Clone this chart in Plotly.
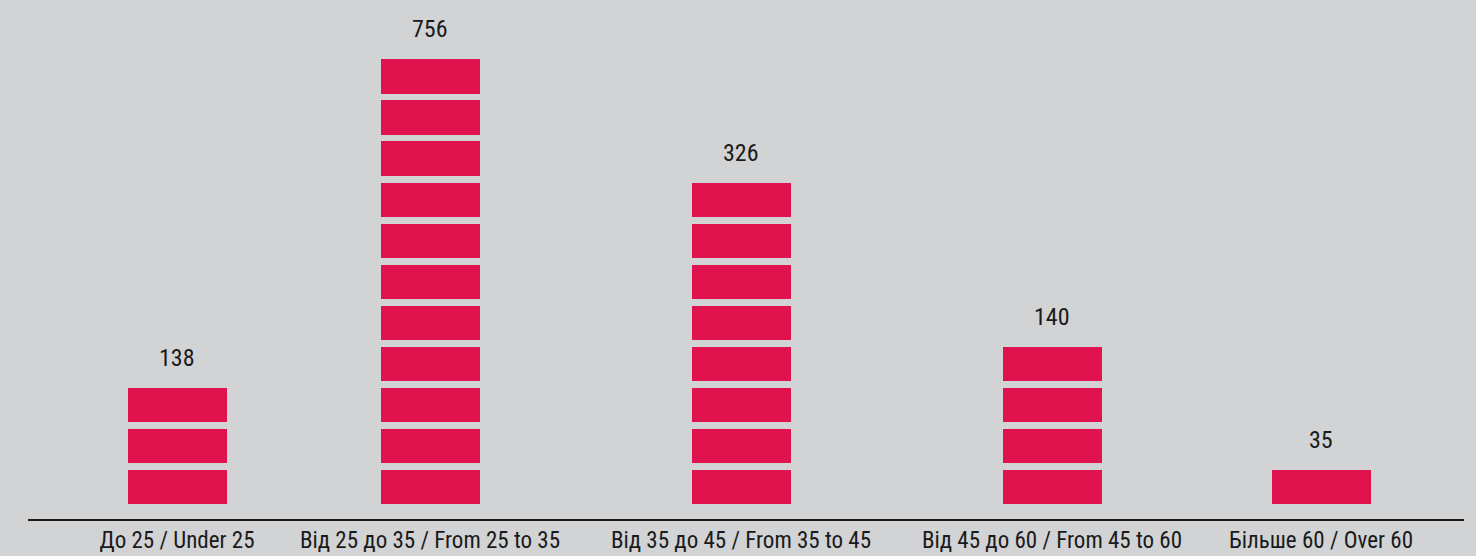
import plotly.graph_objects as go

# ---- data ----
categories = ["До 25 / Under 25", "Від 25 до 35 / From 25 to 35", "Від 35 до 45 / From 35 to 45",
              "Від 45 до 60 / From 45 to 60", "Більше 60 / Over 60"]
values = [138, 756, 326, 140, 35]
blocks = [3, 11, 8, 4, 1]          # number of pictogram blocks per category

# ---- layout constants (positions/styles) ----
x_pos = [149, 402, 713, 1024, 1293]  # category centers on the x axis
BAR_W = 99
BLOCK_H = 0.83
BG = "#D2D3D5"
RED = "#E0134F"
FONT = "Liberation Sans Narrow, Arial Narrow, Roboto Condensed, Liberation Sans, Arial, sans-serif"

fig = go.Figure()
for k in range(max(blocks)):
    xs = [x for x, n in zip(x_pos, blocks) if n > k]
    fig.add_trace(go.Bar(
        x=xs, y=[BLOCK_H] * len(xs), base=[k] * len(xs),
        width=BAR_W, marker=dict(color=RED, line=dict(width=0)),
        hoverinfo="skip", showlegend=False,
    ))

for x, n, v in zip(x_pos, blocks, values):
    fig.add_annotation(x=x, y=n - 1 + BLOCK_H, text=str(v), showarrow=False,
                       yanchor="bottom", yshift=14,
                       font=dict(family=FONT, size=24, color="#1a1a1a"))

fig.update_layout(
    width=1476, height=556,
    paper_bgcolor=BG, plot_bgcolor=BG,
    margin=dict(l=28, r=12, t=0, b=37),
    barmode="overlay", bargap=0,
    xaxis=dict(range=[0, 1436], tickvals=x_pos, ticktext=categories,
               showgrid=False, zeroline=False, showline=True,
               linecolor="#1a1a1a", linewidth=1.5, ticks="",
               tickfont=dict(family=FONT, size=23, color="#1a1a1a")),
    yaxis=dict(range=[-0.375, 12.28], visible=False, showgrid=False, zeroline=False),
)

fig.write_html("out.html", config={"displayModeBar": False},
               post_script="document.body.style.margin='0';document.body.style.overflow='hidden';")
